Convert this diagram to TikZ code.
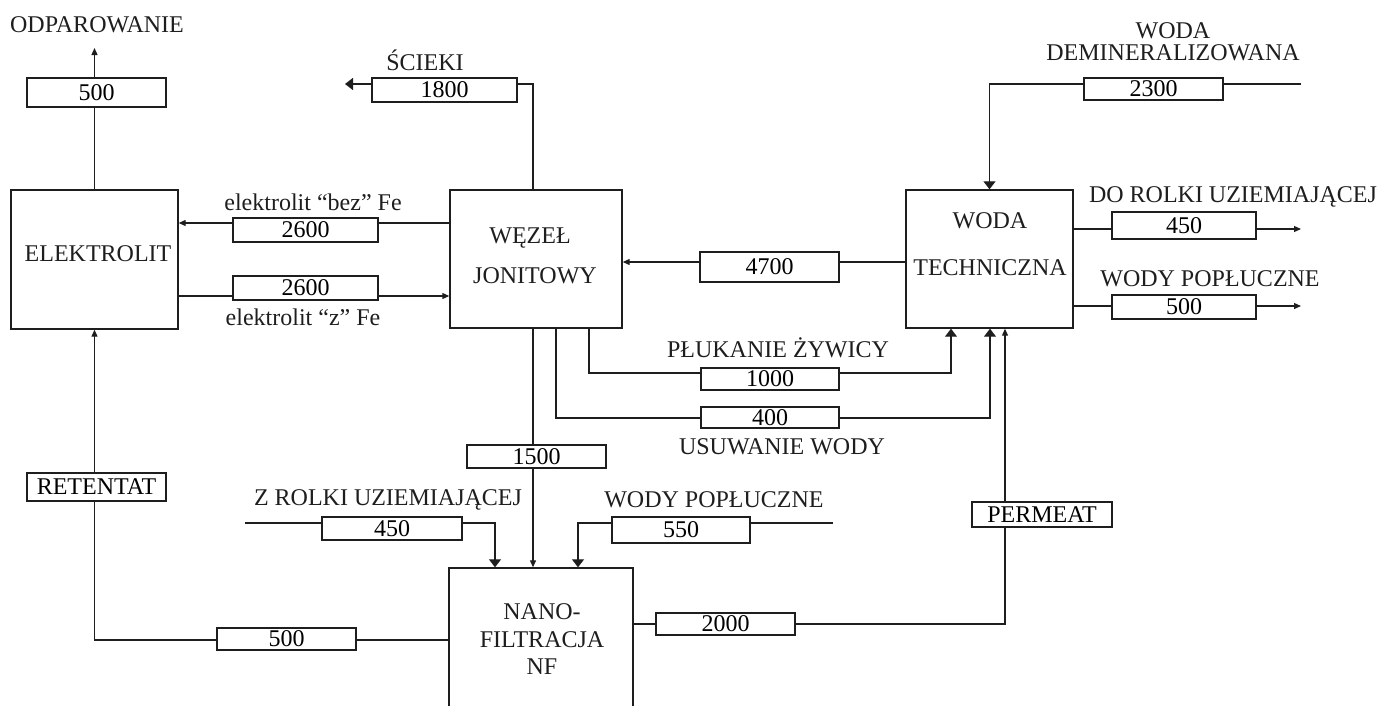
\documentclass[tikz,border=0pt]{standalone}
\usepackage{fontspec}
\setmainfont{Liberation Serif}
\usetikzlibrary{arrows.meta}
\definecolor{ink}{HTML}{1E1E1E}
\begin{document}
\begin{tikzpicture}[x=1pt,y=-1pt,
  ln/.style={draw=ink,line width=1.2pt},
  sarr/.style={ln,-{Triangle[width=6pt,length=7pt]}},
  barr/.style={ln,-{Triangle[width=12pt,length=8pt]}},
  blk/.style={draw=ink,line width=1.4pt,inner sep=0pt},
  vbox/.style={draw=ink,line width=1.2pt,fill=white,inner sep=0pt,minimum width=139pt,minimum height=23pt,font=\fontsize{24}{26}\selectfont},
  txt/.style={inner sep=0pt,font=\fontsize{24}{26}\selectfont,text=ink,align=center}]
\useasboundingbox (0,0) rectangle (1382,705);

% main blocks
\node[blk,minimum width=167pt,minimum height=139pt] (elek) at (94.5,259.5) {};
\node[txt] (elekt) at (98,254) {ELEKTROLIT};
\node[blk,minimum width=172pt,minimum height=138pt] (wez) at (536,259) {};
\node[txt] (wezt1) at (530,238) {WĘZEŁ};
\node[txt] (wezt2) at (535,276) {JONITOWY};
\node[blk,minimum width=167pt,minimum height=138pt] (woda) at (989.5,259) {};
\node[txt] (wodat1) at (990,221) {WODA};
\node[txt] (wodat2) at (990,268) {TECHNICZNA};
\node[blk,minimum width=184pt,minimum height=160pt] (nf) at (541,648) {};
\node[txt] (nft1) at (542,612) {NANO-};
\node[txt] (nft2) at (542,640) {FILTRACJA};
\node[txt] (nft3) at (542,667) {NF};

% free ends
\coordinate (odp) at (94.5,48);
\coordinate (sc) at (345,84);
\coordinate (scx) at (533,84);
\coordinate (a1) at (450,223);
\coordinate (a2) at (178,296);
\coordinate (a3) at (906,262);
\coordinate (dem) at (1301,84);
\coordinate (r1) at (1301,229);
\coordinate (r2) at (1301,306);
\coordinate (pl) at (589,373);
\coordinate (plr) at (951,373);
\coordinate (us) at (556,418);
\coordinate (usr) at (990,418);
\coordinate (pm) at (1005,624);
\coordinate (j15) at (533,400);
\coordinate (zr) at (245,523);
\coordinate (zrc) at (495,523);
\coordinate (wp) at (833,523);
\coordinate (wpc) at (578,523);
\coordinate (rt) at (94.5,640);

% connectors
\draw[sarr] (elek.north) -- (odp);
\draw[barr] (scx |- wez.north) -- (scx) -- (sc);
\draw[sarr] (a1) -- (a1 -| elek.east);
\draw[sarr] (a2) -- (a2 -| wez.west);
\draw[sarr] (a3) -- (a3 -| wez.east);
\draw[barr] (dem) -| (woda.north);
\draw[sarr] (woda.east |- r1) -- (r1);
\draw[sarr] (woda.east |- r2) -- (r2);
\draw[barr] (pl |- wez.south) -- (pl) -- (plr) -- (plr |- woda.south);
\draw[barr] (us |- wez.south) -- (us) -- (usr) -- (usr |- woda.south);
\draw[sarr] (nf.east |- pm) -- (pm) -- (pm |- woda.south);
\draw[sarr] (j15 |- wez.south) -- (j15 |- nf.north);
\draw[barr] (zr) -- (zrc) -- (zrc |- nf.north);
\draw[barr] (wp) -- (wpc) -- (wpc |- nf.north);
\draw[sarr] (nf.west |- rt) -- (rt) -- (rt |- elek.south);

% value boxes
\node[vbox,minimum height=29pt] (v500t) at (96.5,92.5) {500};
\node[vbox,minimum width=145pt,minimum height=24pt] (v1800) at (444.5,90) {1800};
\node[vbox,minimum width=145pt,minimum height=24pt] (v2600a) at (305.5,230) {2600};
\node[vbox,minimum width=145pt,minimum height=24pt] (v2600b) at (305.5,288) {2600};
\node[vbox,minimum height=30pt] (v4700) at (769.5,267) {4700};
\node[vbox,minimum height=22pt] (v2300) at (1153.5,89) {2300};
\node[vbox,minimum width=144pt,minimum height=27pt] (v450r) at (1184,225.5) {450};
\node[vbox,minimum width=144pt,minimum height=24pt] (v500r) at (1184,307) {500};
\node[vbox,minimum width=138pt,minimum height=22pt] (v1000) at (770,379) {1000};
\node[vbox,minimum width=138pt,minimum height=21pt] (v400) at (770,417.5) {400};
\node[vbox,minimum height=23pt] (v1500) at (536.5,456.5) {1500};
\node[vbox,minimum width=140pt,minimum height=23pt] (v450l) at (392,528.5) {450};
\node[vbox,minimum width=138pt,minimum height=26pt] (v550) at (681,530) {550};
\node[vbox,minimum height=28pt] (vret) at (96.5,487) {RETENTAT};
\node[vbox,minimum height=22pt] (v500b) at (286.5,639) {500};
\node[vbox,minimum width=140pt,minimum height=25pt] (vperm) at (1042,514.5) {PERMEAT};
\node[vbox,minimum height=22pt] (v2000) at (725.5,624) {2000};

% labels
\node[txt] (lodp) at (97,25) {ODPAROWANIE};
\node[txt] (lsc) at (425,60) {ŚCIEKI};
\node[txt] (lbez) at (313,202) {elektrolit “bez” Fe};
\node[txt] (lz) at (303,317) {elektrolit “z” Fe};
\node[txt] (ldem1) at (1173,31) {WODA};
\node[txt] (ldem2) at (1173,53) {DEMINERALIZOWANA};
\node[txt] (ldo) at (1233,197) {DO ROLKI UZIEMIAJĄCEJ};
\node[txt] (lwp1) at (1210,279) {WODY POPŁUCZNE};
\node[txt] (lpl) at (778,348) {PŁUKANIE ŻYWICY};
\node[txt] (lus) at (782,447) {USUWANIE WODY};
\node[txt] (lzr) at (388,500) {Z ROLKI UZIEMIAJĄCEJ};
\node[txt] (lwp2) at (714,500) {WODY POPŁUCZNE};
\end{tikzpicture}
\end{document}
